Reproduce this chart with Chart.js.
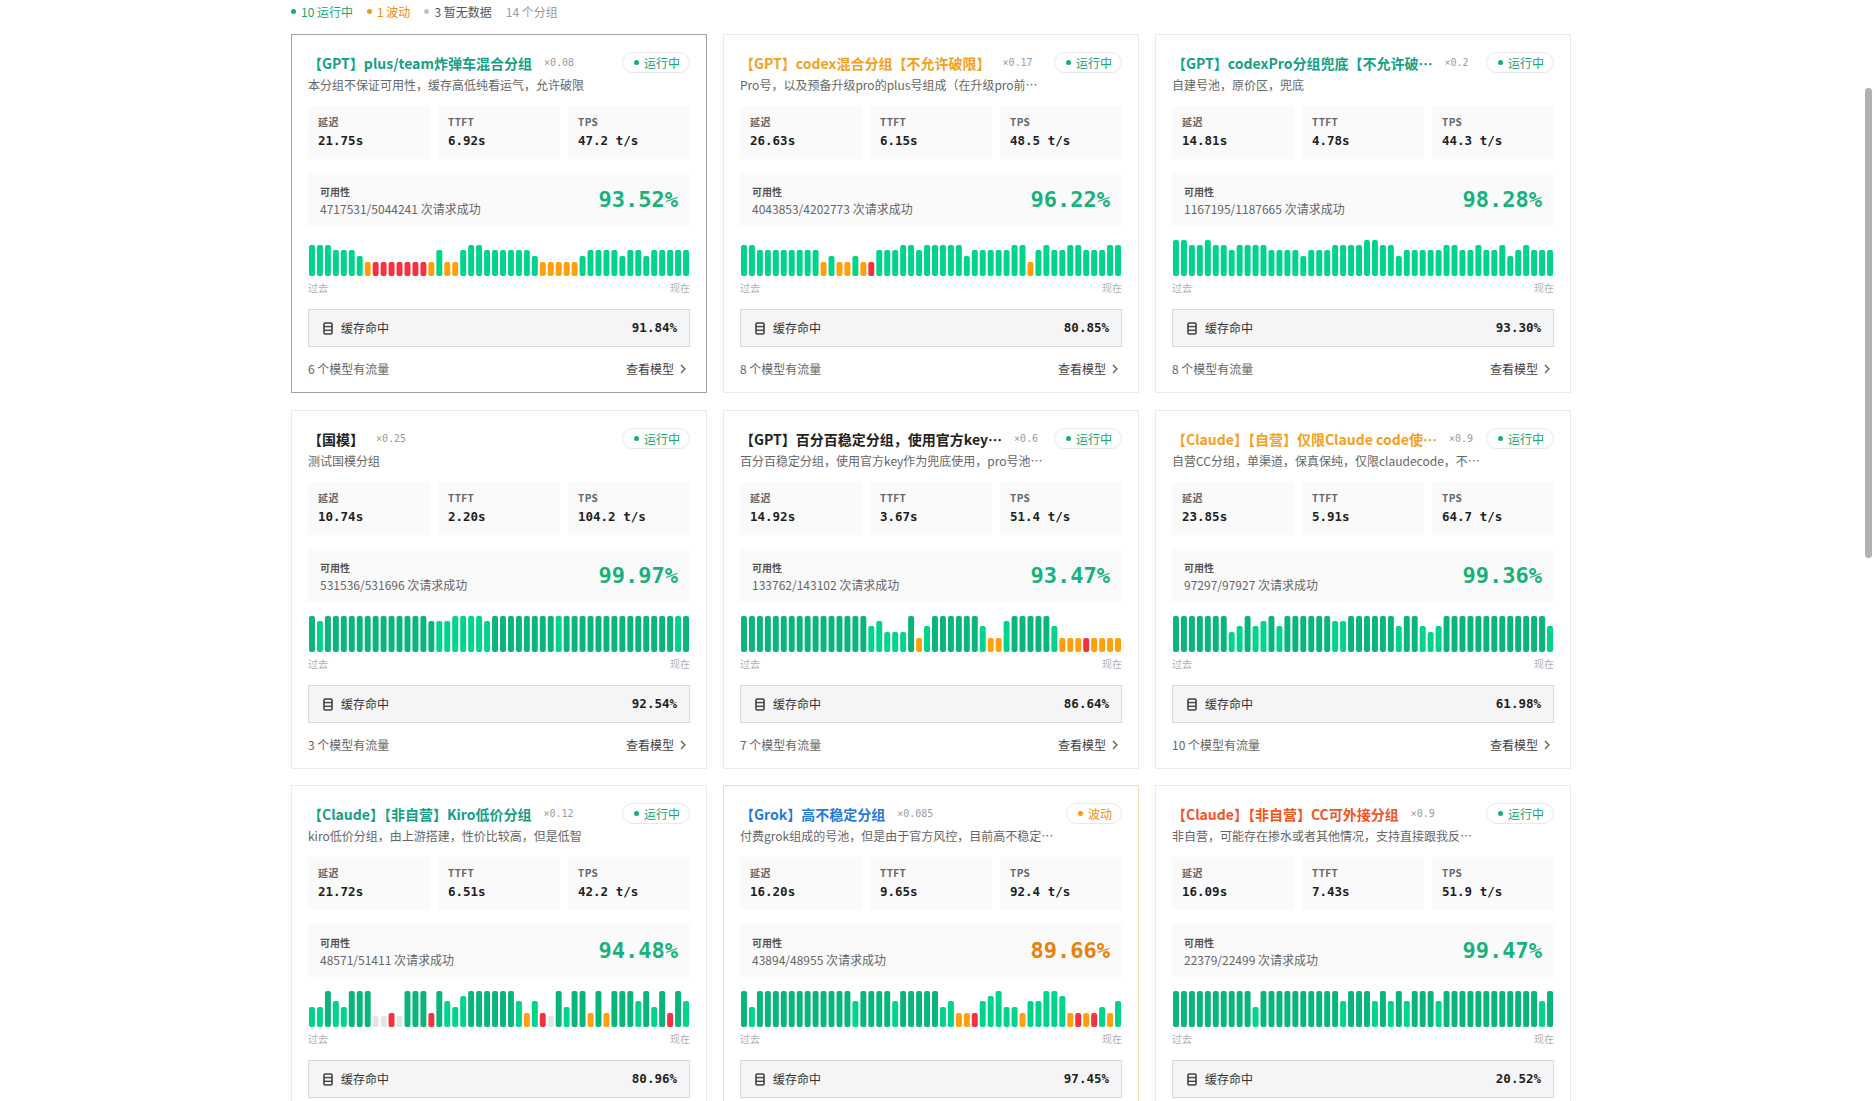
<!DOCTYPE html>
<html lang="zh-CN">
<head>
<meta charset="utf-8">
<title>分组状态</title>
<script src="https://cdn.jsdelivr.net/npm/chart.js@4.4.1/dist/chart.umd.min.js"></script>
<style>
html, body { margin: 0; padding: 0; background: #fff; }
body { width: 1875px; height: 1101px; overflow: hidden; position: relative; font-family: "Noto Sans CJK SC", "Noto Sans", sans-serif; color: #333; }
.summary { position: absolute; left: 291px; top: 2px; height: 18px; display: flex; align-items: center; font-size: 12px; white-space: nowrap; }
.summary span { display: inline-flex; align-items: center; margin-right: 14px; }
.dot { width: 5px; height: 5px; border-radius: 50%; display: inline-block; margin-right: 5px; }
.card { position: absolute; width: 416px; height: 359px; box-sizing: border-box; border: 1px solid #ebebeb; background: #fff; }
.card.sel { border-color: #a3a3a3; }
.card.warn { border-color: #fbdcb2; }
.head { position: absolute; left: 16px; right: 16px; top: 17px; height: 21px; display: flex; align-items: center; }
.title { font-size: 14px; font-weight: 600; white-space: nowrap; overflow: hidden; text-overflow: ellipsis; min-width: 0; flex: 0 1 auto; }
.mult { font-family: "DejaVu Sans Mono", monospace; font-size: 10px; color: #9b9b9b; margin-left: 12px; flex: none; }
.pill { margin-left: auto; flex: none; height: 21px; box-sizing: border-box; border: 1px solid #e8e8e8; border-radius: 11px; padding: 0 9px 0 11px; display: flex; align-items: center; font-size: 12px; }
.pill.ok { color: #15a56f; }
.pill.ok .dot { background: #15b075; }
.pill.warn { color: #f0900a; border-color: #f6e6d0; }
.pill.warn .dot { background: #f39a12; }
.desc { position: absolute; left: 16px; top: 41px; height: 18px; line-height: 18px; font-size: 12px; color: #666; max-width: 382px; white-space: nowrap; overflow: hidden; }
.metrics { position: absolute; left: 16px; top: 71px; width: 382px; height: 53px; display: flex; gap: 8px; }
.mbox { flex: 1; background: #fafafa; position: relative; }
.mlabel { position: absolute; left: 10px; top: 9px; font-size: 10px; font-weight: 600; color: #666; line-height: 14px; letter-spacing: 0.4px; }
.mval { position: absolute; left: 10px; top: 27px; font-family: "DejaVu Sans Mono", monospace; font-weight: bold; font-size: 12.5px; color: #1f1f1f; line-height: 16px; }
.avail { position: absolute; left: 16px; top: 138px; width: 382px; height: 53px; background: #fafafa; }
.alabel { position: absolute; left: 12px; top: 12px; font-size: 10px; font-weight: 600; color: #555; line-height: 14px; }
.asub { position: absolute; left: 12px; top: 27px; font-size: 12px; color: #666; line-height: 18px; }
.apct { position: absolute; right: 12px; top: 13px; font-family: "DejaVu Sans Mono", monospace; font-weight: bold; font-size: 22px; line-height: 28px; }
.bars { position: absolute; left: 16px; top: 205px; width: 382px; height: 36px; }
.axis { position: absolute; left: 16px; top: 246px; width: 382px; height: 14px; line-height: 14px; font-size: 10px; color: #b0b0b0; display: flex; justify-content: space-between; }
.cache { position: absolute; left: 16px; top: 274px; width: 382px; height: 38px; box-sizing: border-box; border: 1px solid #d8d8d8; background: #f5f5f5; }
.cache svg { position: absolute; left: 14px; top: 12px; }
.clabel { position: absolute; left: 32px; top: 9px; font-size: 12px; color: #333; line-height: 18px; }
.cval { position: absolute; right: 12px; top: 9px; font-family: "DejaVu Sans Mono", monospace; font-weight: bold; font-size: 12.5px; color: #1f1f1f; line-height: 18px; }
.foot { position: absolute; left: 16px; top: 325px; width: 382px; height: 18px; line-height: 18px; font-size: 12px; color: #666; display: flex; justify-content: space-between; }
.foot .more { color: #444; display: inline-flex; align-items: center; margin-right: 4px; }
.foot .more svg { margin-left: 6px; }
.scroll { position: absolute; left: 1865px; top: 88px; width: 7px; height: 470px; border-radius: 4px; background: #b1b1b1; }
</style>
</head>
<body>
<div class="summary">
  <span style="color:#17a673"><i class="dot" style="background:#17b077"></i>10 运行中</span>
  <span style="color:#f08a00"><i class="dot" style="background:#f39a12"></i>1 波动</span>
  <span style="color:#555"><i class="dot" style="background:#c4c4c4"></i>3 暂无数据</span>
  <span style="color:#9a9a9a">14 个分组</span>
</div>
<div id="grid"></div>
<div class="scroll"></div>

<script>
// card text
const titles = [
  '【GPT】plus/team炸弹车混合分组',
  '【GPT】codex混合分组【不允许破限】',
  '【GPT】codexPro分组兜底【不允许破…',
  '【国模】',
  '【GPT】百分百稳定分组，使用官方key…',
  '【Claude】【自营】仅限Claude code使…',
  '【Claude】【非自营】Kiro低价分组',
  '【Grok】高不稳定分组',
  '【Claude】【非自营】CC可外接分组'
];
const titleColors = ['#14a085', '#f59f1c', '#14a085', '#222', '#222', '#f59f1c', '#14a085', '#1f7ae0', '#f4541f'];
const multipliers = ['×0.08', '×0.17', '×0.2', '×0.25', '×0.6', '×0.9', '×0.12', '×0.085', '×0.9'];
const statuses = ['运行中', '运行中', '运行中', '运行中', '运行中', '运行中', '运行中', '波动', '运行中'];
const descs = [
  '本分组不保证可用性，缓存高低纯看运气，允许破限',
  'Pro号，以及预备升级pro的plus号组成（在升级pro前…',
  '自建号池，原价区，兜底',
  '测试国模分组',
  '百分百稳定分组，使用官方key作为兜底使用，pro号池…',
  '自营CC分组，单渠道，保真保纯，仅限claudecode，不…',
  'kiro低价分组，由上游搭建，性价比较高，但是低智',
  '付费grok组成的号池，但是由于官方风控，目前高不稳定…',
  '非自营，可能存在掺水或者其他情况，支持直接跟我反…'
];

// metrics
const latency = ['21.75s', '26.63s', '14.81s', '10.74s', '14.92s', '23.85s', '21.72s', '16.20s', '16.09s'];
const ttft = ['6.92s', '6.15s', '4.78s', '2.20s', '3.67s', '5.91s', '6.51s', '9.65s', '7.43s'];
const tps = ['47.2', '48.5', '44.3', '104.2', '51.4', '64.7', '42.2', '92.4', '51.9'];
const availability = [93.52, 96.22, 98.28, 99.97, 93.47, 99.36, 94.48, 89.66, 99.47];
const requests = ['4717531/5044241', '4043853/4202773', '1167195/1187665', '531536/531696', '133762/143102', '97297/97927', '48571/51411', '43894/48955', '22379/22499'];
const cacheHit = [91.84, 80.85, 93.30, 92.54, 86.64, 61.98, 80.96, 97.45, 20.52];
const modelCounts = [6, 8, 8, 3, 7, 10, null, null, null];

// 48 buckets per card, oldest first: bar height and state
// G = ok, D = full, O = degraded, R = failing, X = no data
const bars1 = [31,31,31,26,26,26,20, 14,14,14,14,14,14,14,14,14, 26, 14,14, 26, 31,31, 26,26,26,26,26,26, 20, 14,14,14,14,14, 20, 26,26,26,26, 20, 26,26, 20, 26,26,26,26,26];
const states1 = 'GGGGGGG O RRRRRRR O G OO GGGGGGGGGG OOOOO GGGGGGGGGGGGGG';
const bars2 = [31,31, 26,26,26,26,26,26,26,26, 14, 20, 14,14, 20, 14, 14, 26,26,26, 31,31, 26, 31,31,31,31,31, 20, 26,26,26,26,26, 31,31, 14, 26, 31, 26,26, 31,31, 26,26,26, 31,31];
const states2 = 'GGGGGGGGGG O G OO G O R GGGGGGGGGGGGGGGGGGG O GGGGGGGGGGG';
const bars3 = [36,36,31,31,36,31,31,26, 31,31,31,31, 26,26,26,26, 20, 26,26,26, 31,31,31,31, 36,36, 31,31, 20, 26,26,26,26,26, 31,31, 26,26, 31, 26,26, 31, 20, 26, 31, 26,26,26];
const states3 = 'GGGGGGGGGGGG GGGGGGGGGGGG GGGGGGGGGGGG GGGGGGGGGGGG';
const bars4 = [36,31, 36,36,36,36,36,36,36,36,36,36,36,36,36, 31,31,31, 36,36,36,36, 31, 36,36,36,36,36,36,36,36,36,36,36,36,36,36,36,36,36,36,36,36,36,36,36,36,36];
const states4 = 'DG DDDDDDDDDDDDDD GGGGGGG DDDDDDDD G DDDDDDDDDDDDDD G D';
const bars5 = [36,36,36,36,36,36,36,36,36,36,36,36,36,36,36,36, 26,31,20,20,20, 36, 14, 26, 36,36,36,36,36,36, 26, 14,14, 31, 36,36,36,36,36, 26, 14,14,14, 14, 14,14,14,14];
const states5 = 'DDDDDDDDDDDDDDDD GGGGG D O G DDDDDD G OO G DDDDD G OOO R OOOO';
const bars6 = [36,36,36,36,36,36,36, 20,26, 36, 26,31, 36, 26, 36,36,36,36,36,36, 31,31, 36,36,36,36,36,36, 26, 36,36, 26,20,26, 36,36,36,36,36,36,36,36,36,36,36,36,36, 26];
const states6 = 'DDDDDDD GG D GG D G DDDDDD GG DDDDDD G DD GGG DDDDDDDDDDDDD G';
const bars7 = [20,20,36,26,20,36,36,36, 11,11,14,11, 36,36,36,14,36, 26,20,31, 36,36,36,36,36,36, 26,14,26,14,11, 36,20,36,36,14,36,14,36,36,36, 26,36,20,36,14,36,26];
const states7 = 'GGDGGDDD XXRX DDDRD GGG DDDDDD GOGRX DGDDODODDD GDGDRDG';
const bars8 = [36,20, 36,36,36,36,36,36,36,36,36,36,36,36, 26, 36,36,36,36, 26, 36,36,36,36,36, 20,26, 14,14,14, 26,31,36,20,20, 14, 26,26,36,36,31, 14,14,14,14, 20, 14, 26];
const states8 = 'DG DDDDDDDDDDDD G DDDD G DDDDD GG OOR GGGGG O GGGGG OROR G O G';
const bars9 = [36,36,36,36,36,36,36,36,36,36, 20, 36,36,36,36,36,36,36,36,36,36, 26, 36,36,36, 26, 36, 26, 36, 26, 36,36,36, 26, 36,36,36,36,36,36,36,36,36,36,36,36, 26, 36];
const states9 = 'DDDDDDDDDD G DDDDDDDDDD G DDD G D G D G DDD G DDDDDDDDDDDD G D';

const allBars = [bars1, bars2, bars3, bars4, bars5, bars6, bars7, bars8, bars9];
const allStates = [states1, states2, states3, states4, states5, states6, states7, states8, states9];

const barColors = { G: '#00d38c', D: '#0ab57a', O: '#ff9f0a', R: '#f4323f', X: '#e4e4e4' };
const colLeft = [291, 723, 1155];
const rowTop = [34, 410, 785];

const dbIcon = '<svg width="10" height="13" viewBox="0 0 10 13"><rect x="1" y="1" width="8" height="11" rx="1" fill="none" stroke="#444" stroke-width="1.6"/><line x1="1" y1="4.6" x2="9" y2="4.6" stroke="#444" stroke-width="1.4"/><line x1="1" y1="8.3" x2="9" y2="8.3" stroke="#444" stroke-width="1.4"/></svg>';
const chevron = '<svg width="6" height="10" viewBox="0 0 6 10"><polyline points="1,1 5,5 1,9" fill="none" stroke="#555" stroke-width="1.2"/></svg>';

const grid = document.getElementById('grid');

titles.forEach((title, i) => {
    const card = document.createElement('div');
    const warn = statuses[i] === '波动';
    card.className = 'card' + (i === 0 ? ' sel' : '') + (warn ? ' warn' : '');
    card.style.left = colLeft[i % 3] + 'px';
    card.style.top = rowTop[Math.floor(i / 3)] + 'px';

    let html = `
      <div class="head">
        <span class="title" style="color:${titleColors[i]}">${title}</span>
        <span class="mult">${multipliers[i]}</span>
        <span class="pill ${warn ? 'warn' : 'ok'}"><i class="dot"></i>${statuses[i]}</span>
      </div>
      <div class="desc">${descs[i]}</div>
      <div class="metrics">
        <div class="mbox"><div class="mlabel">延迟</div><div class="mval">${latency[i]}</div></div>
        <div class="mbox"><div class="mlabel">TTFT</div><div class="mval">${ttft[i]}</div></div>
        <div class="mbox"><div class="mlabel">TPS</div><div class="mval">${tps[i]} t/s</div></div>
      </div>
      <div class="avail">
        <div class="alabel">可用性</div>
        <div class="asub">${requests[i]} 次请求成功</div>
        <div class="apct" style="color:${availability[i] < 90 ? '#e8800c' : '#17b27a'}">${availability[i].toFixed(2)}%</div>
      </div>
      <div class="bars"><canvas></canvas></div>
      <div class="axis"><span>过去</span><span>现在</span></div>
      <div class="cache">${dbIcon}<span class="clabel">缓存命中</span><span class="cval">${cacheHit[i].toFixed(2)}%</span></div>`;
    if (modelCounts[i] !== null) {
        html += `<div class="foot"><span>${modelCounts[i]} 个模型有流量</span><span class="more">查看模型${chevron}</span></div>`;
    }
    card.innerHTML = html;
    grid.appendChild(card);

    const heights = allBars[i];
    const states = allStates[i].replace(/ /g, '').split('');

    new Chart(card.querySelector('canvas'), {
        type: 'bar',
        data: {
            labels: heights.map((_, k) => k + 1),
            datasets: [{
                data: heights,
                backgroundColor: states.map(s => barColors[s]),
                borderRadius: 2,
                borderSkipped: false,
                barPercentage: 0.75,
                categoryPercentage: 1
            }]
        },
        options: {
            responsive: true,
            maintainAspectRatio: false,
            animation: false,
            layout: { padding: 0 },
            plugins: {
                legend: { display: false },
                tooltip: { enabled: false }
            },
            scales: {
                x: { display: false },
                y: { display: false, min: 0, max: 36 }
            }
        }
    });
});
</script>
</body>
</html>
